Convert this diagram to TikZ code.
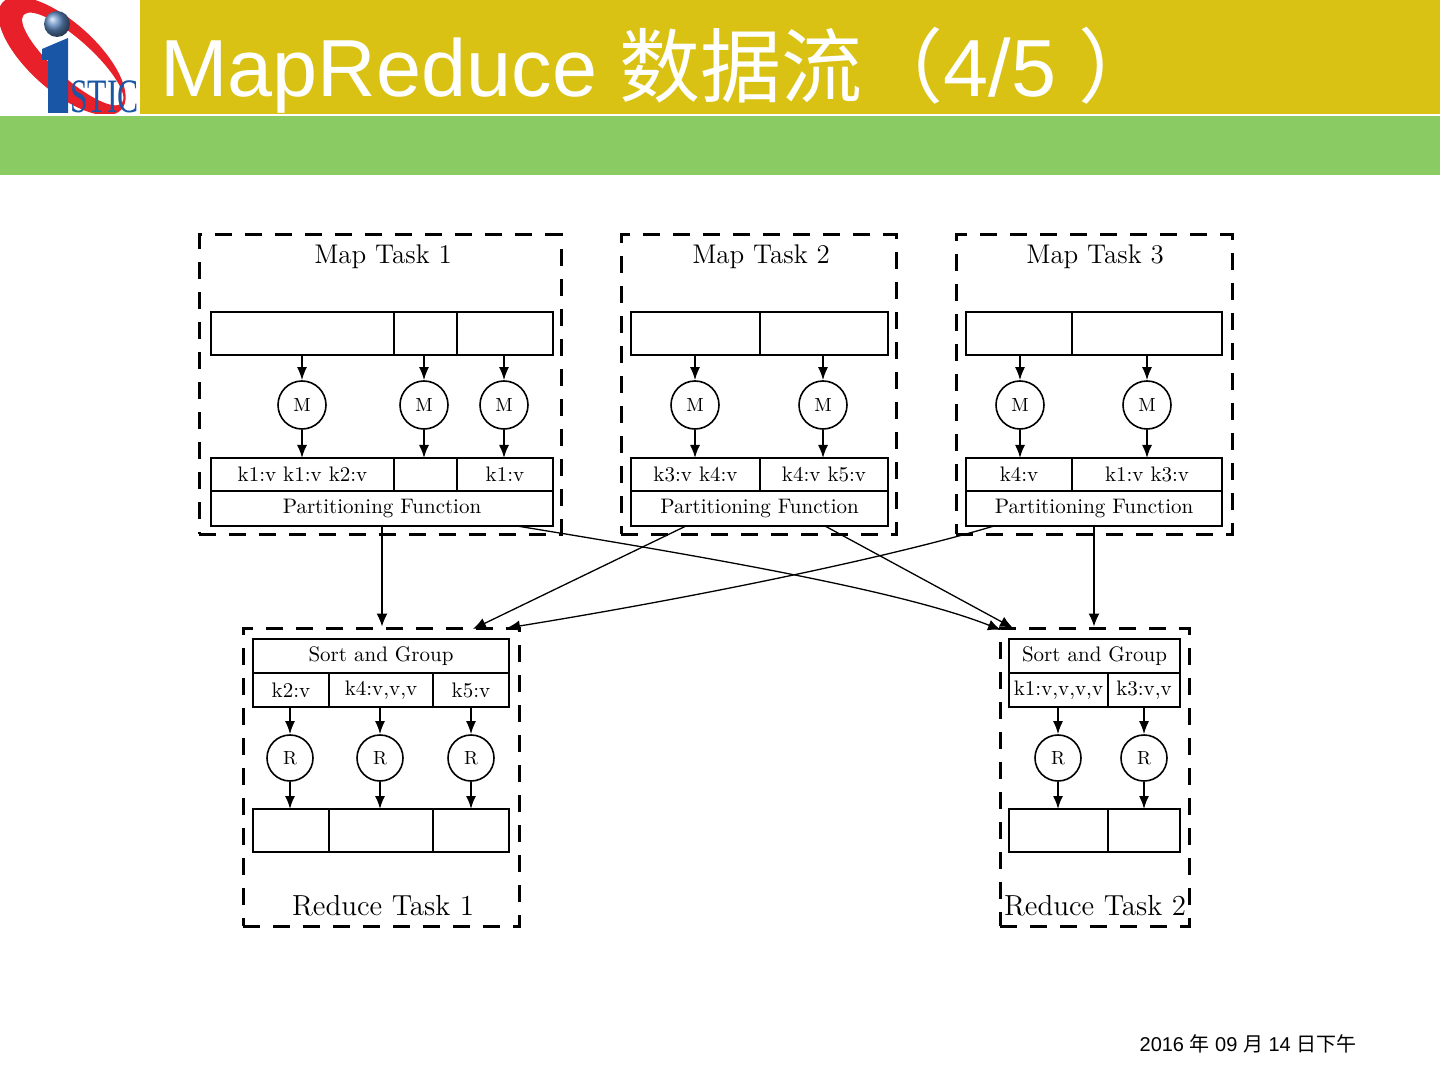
\documentclass[tikz,border=0pt]{standalone}
\usepackage{fontspec}
\usetikzlibrary{arrows.meta,calc}
\newfontfamily\titlefont{Liberation Sans}
\newfontfamily\cjkfont{Noto Sans CJK SC}
\newfontfamily\logofont{Liberation Serif}
\definecolor{headyellow}{HTML}{D9C214}
\definecolor{headgreen}{HTML}{8BCB64}
\definecolor{logored}{HTML}{E8202A}
\definecolor{logoblue}{HTML}{1A56A6}
\tikzset{
  taskframe/.style 2 args={draw,line width=1.5pt,dash pattern=on 8.5pt off 6.5pt,inner sep=0pt,minimum width=#1*.5pt,minimum height=#2*.5pt},
  cellbox/.style 2 args={draw,line width=.8pt,inner sep=0pt,outer sep=0pt,minimum width=#1*.5pt,minimum height=#2*.5pt,font=\fontsize{10.5}{12}\selectfont},
  opcircle/.style={draw,circle,line width=.8pt,inner sep=0pt,minimum size=#1*.5pt,font=\fontsize{9.5}{11}\selectfont},
  tasklabel/.style={font=\fontsize{#1}{16}\selectfont},
  flow/.style={-{Latex[length=6.5pt,width=5pt]},line width=.8pt},
  link/.style={-{Latex[length=6.5pt,width=5.5pt]},line width=.65pt}
}
\begin{document}
\begin{tikzpicture}[x=.5pt,y=-.5pt]
\useasboundingbox (0,0) rectangle (1440,1080);

\fill[headyellow] (140,0) rectangle (1440,114);
\fill[headgreen] (0,116) rectangle (1440,175);

\begin{scope}
\clip (0,0) rectangle (140,114);
\fill[logored,even odd rule,rotate around={-42:(62,56)}] (62,56) ellipse [x radius=80,y radius=34]
  (72,51) ellipse [x radius=66,y radius=19];
\fill[logoblue] (42,60) -- (42,49) -- (68,38) -- (68,113) -- (48,113) -- (48,60) -- cycle;
\shade[ball color=logoblue!70!white] (57,24) circle [radius=13];
\node[logoblue,anchor=south west,inner sep=0pt,xscale=.66] (logotext) at (70,113) {\logofont\fontsize{24}{24}\selectfont STIC};
\end{scope}

\node[white,anchor=west,inner sep=0pt] (title) at (160,70) {\fontsize{40.5}{44}\selectfont\titlefont MapReduce \cjkfont 数据流（\titlefont 4/5 \cjkfont ）};
\node[inner sep=0pt] (datenote) at (1248,1044) {\fontsize{10}{12}\selectfont\titlefont 2016 \cjkfont 年\titlefont{} 09 \cjkfont 月\titlefont{} 14 \cjkfont 日下午};

\node[taskframe={362}{299}] (map1) at (380,384.5) {};
\node[taskframe={275}{299}] (map2) at (758.5,384.5) {};
\node[taskframe={276}{299}] (map3) at (1094,384.5) {};
\node[taskframe={276}{298}] (red1) at (381,777) {};
\node[taskframe={189}{298}] (red2) at (1094.5,777) {};

\node[tasklabel=13.5] (map1t) at (383,257) {Map Task 1};
\node[tasklabel=13.5] (map2t) at (761,257) {Map Task 2};
\node[tasklabel=13.5] (map3t) at (1095,257) {Map Task 3};
\node[tasklabel=14.5] (red1t) at (383,906) {Reduce Task 1};
\node[tasklabel=14.5] (red2t) at (1095,906) {Reduce Task 2};

\node[cellbox={183}{43}] (in1a) at (302.5,333.5) {};
\node[cellbox={63}{43}] (in1b) at (425.5,333.5) {};
\node[cellbox={96}{43}] (in1c) at (505,333.5) {};
\node[cellbox={129}{43}] (in2a) at (695.5,333.5) {};
\node[cellbox={128}{43}] (in2b) at (824,333.5) {};
\node[cellbox={106}{43}] (in3a) at (1019,333.5) {};
\node[cellbox={150}{43}] (in3b) at (1147,333.5) {};

\node[opcircle=48] (m1a) at (302,405) {M};
\node[opcircle=48] (m1b) at (424,405) {M};
\node[opcircle=48] (m1c) at (504,405) {M};
\node[opcircle=48] (m2a) at (695,405) {M};
\node[opcircle=48] (m2b) at (823,405) {M};
\node[opcircle=48] (m3a) at (1020,405) {M};
\node[opcircle=48] (m3b) at (1147,405) {M};

\node[cellbox={183}{33}] (out1a) at (302.5,474.5) {k1:v k1:v k2:v};
\node[cellbox={63}{33}] (out1b) at (425.5,474.5) {};
\node[cellbox={96}{33}] (out1c) at (505,474.5) {k1:v};
\node[cellbox={129}{33}] (out2a) at (695.5,474.5) {k3:v k4:v};
\node[cellbox={128}{33}] (out2b) at (824,474.5) {k4:v k5:v};
\node[cellbox={106}{33}] (out3a) at (1019,474.5) {k4:v};
\node[cellbox={150}{33}] (out3b) at (1147,474.5) {k1:v k3:v};

\node[cellbox={342}{35}] (part1) at (382,508.5) {Partitioning Function};
\node[cellbox={257}{35}] (part2) at (759.5,508.5) {Partitioning Function};
\node[cellbox={256}{35}] (part3) at (1094,508.5) {Partitioning Function};

\node[cellbox={256}{34}] (sort1) at (381,656) {Sort and Group};
\node[cellbox={171}{34}] (sort2) at (1094.5,656) {Sort and Group};
\node[cellbox={76}{34}] (grp1a) at (291,690) {k2:v};
\node[cellbox={104}{34}] (grp1b) at (381,690) {k4:v,v,v};
\node[cellbox={76}{34}] (grp1c) at (471,690) {k5:v};
\node[cellbox={99}{34}] (grp2a) at (1058.5,690) {k1:v,v,v,v};
\node[cellbox={72}{34}] (grp2b) at (1144,690) {k3:v,v};

\node[opcircle=46] (r1a) at (290,758) {R};
\node[opcircle=46] (r1b) at (380,758) {R};
\node[opcircle=46] (r1c) at (471,758) {R};
\node[opcircle=46] (r2a) at (1058,758) {R};
\node[opcircle=46] (r2b) at (1144,758) {R};

\node[cellbox={76}{43}] (res1a) at (291,830.5) {};
\node[cellbox={104}{43}] (res1b) at (381,830.5) {};
\node[cellbox={76}{43}] (res1c) at (471,830.5) {};
\node[cellbox={99}{43}] (res2a) at (1058.5,830.5) {};
\node[cellbox={72}{43}] (res2b) at (1144,830.5) {};

\foreach \op/\from/\to in {m1a/in1a/out1a,m1b/in1b/out1b,m1c/in1c/out1c,m2a/in2a/out2a,m2b/in2b/out2b,m3a/in3a/out3a,m3b/in3b/out3b,r1a/grp1a/res1a,r1b/grp1b/res1b,r1c/grp1c/res1c,r2a/grp2a/res2a,r2b/grp2b/res2b}{
  \draw[flow] (\op.north |- \from.south) -- (\op.north);
  \draw[flow] (\op.south) -- (\op.south |- \to.north);
}

\coordinate (p1right) at (517,526);
\coordinate (p2left) at (686,526);
\coordinate (p2right) at (825,526);
\coordinate (p3left) at (994,526);
\coordinate (r1in2) at (473,629);
\coordinate (r1in3) at (507,628);
\coordinate (r2in1) at (1001,630);
\coordinate (r2in2) at (1013,628);

\draw[link] (part1.south) -- (part1.south |- red1.north);
\draw[link] (part3.south) -- (part3.south |- red2.north);
\draw[link] (p2left) -- (r1in2);
\draw[link] (p2right) -- (r2in2);
\draw[link] (p1right) .. controls (700,556) and (900,590) .. (r2in1);
\draw[link] (p3left) .. controls (880,560) and (680,600) .. (r1in3);

\end{tikzpicture}
\end{document}
